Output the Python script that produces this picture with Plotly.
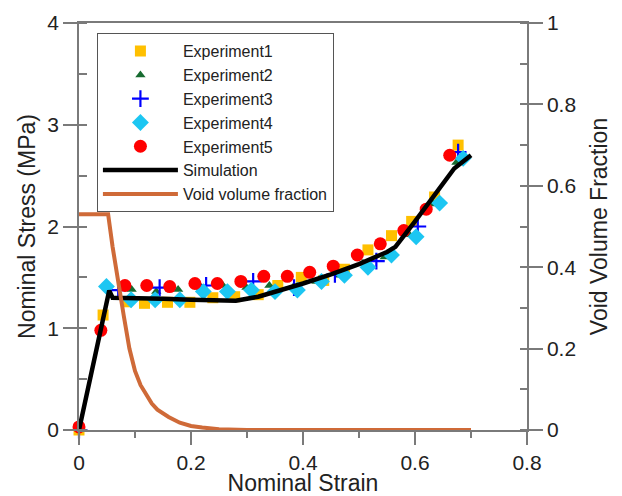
import plotly.graph_objects as go

# ---- data ----
exp1_x = [0.0, 0.043, 0.085, 0.117, 0.158, 0.198, 0.239, 0.278, 0.32, 0.355, 0.397, 0.437, 0.474, 0.516, 0.558, 0.594, 0.635, 0.677]
exp1_y = [0.0, 1.13, 1.26, 1.245, 1.255, 1.255, 1.30, 1.31, 1.33, 1.42, 1.50, 1.47, 1.58, 1.77, 1.91, 2.05, 2.29, 2.80]

exp2_x = [0.0, 0.049, 0.094, 0.138, 0.177, 0.218, 0.257, 0.299, 0.34, 0.382, 0.424, 0.466, 0.507, 0.546, 0.59, 0.632, 0.674]
exp2_y = [-0.03, 1.42, 1.38, 1.36, 1.38, 1.40, 1.42, 1.40, 1.42, 1.40, 1.46, 1.52, 1.64, 1.70, 1.92, 2.22, 2.63]

exp3_x = [0.0, 0.07, 0.144, 0.227, 0.311, 0.384, 0.457, 0.531, 0.605, 0.677]
exp3_y = [0.0, 1.375, 1.40, 1.42, 1.46, 1.40, 1.53, 1.66, 2.00, 2.73]

exp4_x = [0.0, 0.049, 0.093, 0.136, 0.18, 0.222, 0.265, 0.308, 0.35, 0.39, 0.433, 0.474, 0.516, 0.558, 0.602, 0.644, 0.686]
exp4_y = [-0.02, 1.41, 1.28, 1.28, 1.28, 1.36, 1.36, 1.375, 1.36, 1.375, 1.46, 1.52, 1.60, 1.72, 1.90, 2.23, 2.67]

exp5_x = [0.0, 0.039, 0.082, 0.121, 0.162, 0.207, 0.247, 0.289, 0.33, 0.372, 0.412, 0.454, 0.497, 0.538, 0.58, 0.62, 0.662]
exp5_y = [0.03, 0.98, 1.42, 1.42, 1.41, 1.44, 1.44, 1.46, 1.51, 1.51, 1.55, 1.61, 1.72, 1.83, 1.96, 2.17, 2.70]

sim_x = [0.0, 0.054, 0.06, 0.10, 0.15, 0.20, 0.25, 0.28, 0.32, 0.36, 0.40, 0.45, 0.50, 0.55, 0.565, 0.60, 0.64, 0.67, 0.70]
sim_y = [0.0, 1.37, 1.30, 1.30, 1.29, 1.28, 1.27, 1.27, 1.31, 1.37, 1.44, 1.53, 1.63, 1.75, 1.80, 2.05, 2.35, 2.57, 2.70]

vf_x = [0.0, 0.052, 0.06, 0.07, 0.08, 0.09, 0.10, 0.11, 0.12, 0.13, 0.14, 0.15, 0.16, 0.18, 0.20, 0.22, 0.25, 0.30, 0.70]
vf_y = [0.53, 0.53, 0.45, 0.36, 0.28, 0.20, 0.145, 0.11, 0.085, 0.065, 0.05, 0.04, 0.032, 0.018, 0.01, 0.006, 0.002, 0.0, 0.0]

x_ticks = [0, 0.2, 0.4, 0.6, 0.8]
x_ticktext = ["0", "0.2", "0.4", "0.6", "0.8"]
y2_ticks = [0, 0.2, 0.4, 0.6, 0.8, 1]
y2_ticktext = ["0", "0.2", "0.4", "0.6", "0.8", "1"]

FONT = "Liberation Sans, Arial, sans-serif"
AXC = "#7a7a7a"
TXT = "#222222"

fig = go.Figure()
fig.add_trace(go.Scatter(x=exp1_x, y=exp1_y, mode="markers", name="Experiment1",
                         marker=dict(symbol="square", size=11, color="#FFC000"), cliponaxis=False))
fig.add_trace(go.Scatter(x=exp2_x, y=exp2_y, mode="markers", name="Experiment2",
                         marker=dict(symbol="triangle-up", size=9, color="#176B30"), cliponaxis=False))
fig.add_trace(go.Scatter(x=exp3_x, y=exp3_y, mode="markers", name="Experiment3",
                         marker=dict(symbol="cross-thin", size=12, color="#0000FF",
                                     line=dict(color="#0000FF", width=2.2)), cliponaxis=False))
fig.add_trace(go.Scatter(x=exp4_x, y=exp4_y, mode="markers", name="Experiment4",
                         marker=dict(symbol="diamond", size=13, color="#1CC6F2"), cliponaxis=False))
fig.add_trace(go.Scatter(x=exp5_x, y=exp5_y, mode="markers", name="Experiment5",
                         marker=dict(symbol="circle", size=13, color="#FF0000"), cliponaxis=False))
fig.add_trace(go.Scatter(x=sim_x, y=sim_y, mode="lines", name="Simulation",
                         line=dict(color="black", width=4.5), cliponaxis=False))
fig.add_trace(go.Scatter(x=vf_x, y=vf_y, mode="lines", name="Void volume fraction", yaxis="y2",
                         line=dict(color="#CF6A38", width=4), cliponaxis=False))

fig.update_layout(
    width=614, height=488,
    margin=dict(l=71, r=95, t=15, b=66, autoexpand=False),
    paper_bgcolor="white", plot_bgcolor="white",
    font=dict(family=FONT, color=TXT, size=21),
    showlegend=True,
    legend=dict(x=0.04, y=0.975, xanchor="left", yanchor="top",
                bgcolor="white", bordercolor="#555555", borderwidth=1,
                font=dict(family=FONT, size=16, color=TXT),
                itemwidth=75, tracegroupgap=0),
    xaxis=dict(range=[0, 0.8], tickvals=x_ticks, ticktext=x_ticktext,
               showgrid=False, zeroline=False, automargin=True,
               showline=True, linecolor=AXC, linewidth=1.5, mirror=True,
               ticks="outside", ticklen=13, tickcolor=AXC, tickwidth=1.5,
               minor=dict(dtick=0.1, ticks="outside", ticklen=6, tickcolor=AXC, tickwidth=1.5),
               tickfont=dict(size=21, color=TXT),
               title=dict(text="Nominal Strain", font=dict(size=23, color=TXT), standoff=12)),
    yaxis=dict(range=[0, 4], dtick=1,
               showgrid=False, zeroline=False, automargin=True,
               showline=True, linecolor=AXC, linewidth=1.5,
               ticks="outside", ticklen=14, tickcolor=AXC, tickwidth=1.5,
               minor=dict(dtick=0.5, ticks="inside", ticklen=8, tickcolor=AXC, tickwidth=1.5),
               tickfont=dict(size=21, color=TXT),
               title=dict(text="Nominal Stress (MPa)", font=dict(size=23, color=TXT), standoff=5)),
    yaxis2=dict(range=[0, 1], tickvals=y2_ticks, ticktext=y2_ticktext,
                overlaying="y", side="right",
                showgrid=False, zeroline=False, automargin=True,
                showline=True, linecolor=AXC, linewidth=1.5,
                ticks="outside", ticklen=14, tickcolor=AXC, tickwidth=1.5,
                minor=dict(dtick=0.1, ticks="inside", ticklen=7, tickcolor=AXC, tickwidth=1.5),
                tickfont=dict(size=21, color=TXT),
                title=dict(text="Void Volume Fraction", font=dict(size=23, color=TXT), standoff=15)),
)

fig.write_html("out.html")
